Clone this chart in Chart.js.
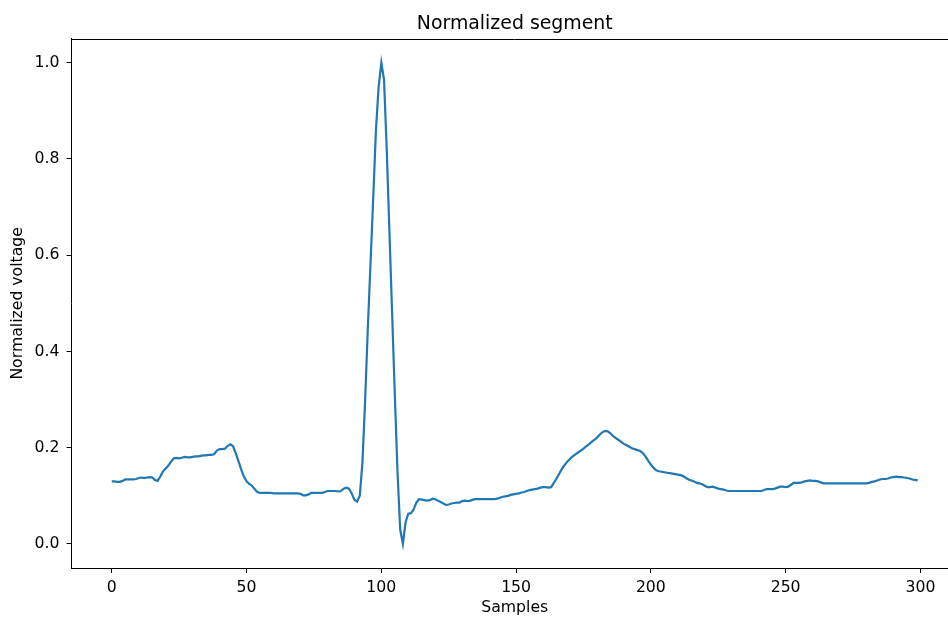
<!DOCTYPE html>
<html>
<head>
<meta charset="utf-8">
<script src="https://cdn.jsdelivr.net/npm/chart.js@4"></script>
<style>
  html, body { margin: 0; padding: 0; background: #fff; overflow: hidden; width: 948px; height: 618px; }
  #wrap { position: relative; width: 948px; height: 618px; overflow: hidden; }
  #c { position: absolute; left: 0; top: 0; display: block; }
</style>
</head>
<body>
<div id="wrap"><canvas id="c" width="1100" height="618"></canvas></div>
<script>
const chartTitle = "Normalized segment";
const xTitle = "Samples";
const yTitle = "Normalized voltage";
const xTicks = [0, 50, 100, 150, 200, 250, 300];
const yTicks = [0.0, 0.2, 0.4, 0.6, 0.8, 1.0];

const values = [
  0.130,0.130,0.129,0.129,0.131,0.134,0.134,0.134,0.134,0.135,
  0.137,0.138,0.137,0.138,0.139,0.138,0.133,0.131,0.140,0.151,
  0.157,0.163,0.171,0.178,0.179,0.178,0.179,0.181,0.180,0.180,
  0.181,0.182,0.182,0.183,0.184,0.184,0.185,0.185,0.187,0.194,
  0.197,0.197,0.198,0.204,0.207,0.203,0.188,0.172,0.155,0.140,
  0.130,0.125,0.121,0.114,0.108,0.106,0.106,0.106,0.106,0.106,
  0.105,0.105,0.105,0.105,0.105,0.105,0.105,0.105,0.105,0.105,
  0.104,0.101,0.101,0.103,0.106,0.106,0.106,0.106,0.106,0.108,
  0.110,0.110,0.110,0.110,0.109,0.110,0.115,0.117,0.115,0.105,
  0.092,0.088,0.100,0.170,0.300,0.450,0.585,0.720,0.860,0.950,
  1.000,0.965,0.820,0.650,0.480,0.310,0.150,0.030,0.000,0.045,
  0.063,0.064,0.072,0.086,0.093,0.092,0.091,0.090,0.091,0.094,
  0.093,0.090,0.087,0.084,0.081,0.082,0.084,0.085,0.086,0.086,
  0.089,0.090,0.089,0.090,0.092,0.093,0.093,0.093,0.093,0.093,
  0.093,0.093,0.093,0.094,0.096,0.098,0.099,0.100,0.102,0.103,
  0.104,0.105,0.107,0.108,0.110,0.112,0.113,0.114,0.115,0.117,
  0.118,0.118,0.117,0.118,0.127,0.136,0.146,0.156,0.164,0.171,
  0.177,0.182,0.186,0.190,0.194,0.198,0.203,0.207,0.212,0.216,
  0.221,0.227,0.232,0.235,0.234,0.230,0.224,0.220,0.216,0.212,
  0.208,0.205,0.202,0.199,0.197,0.195,0.193,0.189,0.182,0.173,
  0.165,0.158,0.153,0.151,0.150,0.149,0.148,0.147,0.146,0.145,
  0.144,0.143,0.141,0.137,0.134,0.132,0.130,0.127,0.126,0.124,
  0.121,0.118,0.118,0.119,0.117,0.115,0.114,0.113,0.111,0.110,
  0.110,0.110,0.110,0.110,0.110,0.110,0.110,0.110,0.110,0.110,
  0.110,0.110,0.112,0.114,0.114,0.114,0.115,0.117,0.119,0.119,
  0.118,0.119,0.123,0.127,0.127,0.127,0.128,0.130,0.131,0.132,
  0.131,0.131,0.130,0.128,0.126,0.126,0.126,0.126,0.126,0.126,
  0.126,0.126,0.126,0.126,0.126,0.126,0.126,0.126,0.126,0.126,
  0.126,0.127,0.129,0.130,0.132,0.134,0.135,0.135,0.136,0.138,
  0.139,0.140,0.139,0.139,0.138,0.137,0.136,0.134,0.133,0.132
];
const samples = values.map((_, i) => i);

const FONT = "'DejaVu Sans', 'Liberation Sans', sans-serif";
const TICK_SIZE = 15.7;
const TITLE_SIZE = 18.9;

const topSpinePlugin = {
  id: 'topSpine',
  afterDraw(chart) {
    const a = chart.chartArea;
    const ctx = chart.ctx;
    ctx.save();
    ctx.strokeStyle = '#000';
    ctx.lineWidth = 1;
    ctx.beginPath();
    const y = Math.round(a.top) + 0.5;
    ctx.moveTo(a.left, y);
    ctx.lineTo(a.right, y);
    ctx.stroke();
    ctx.restore();
  }
};

new Chart(document.getElementById('c'), {
  type: 'line',
  data: {
    datasets: [{
      data: samples.map((s, i) => ({ x: s, y: values[i] })),
      borderColor: '#1f77b4',
      borderWidth: 2.2,
      pointRadius: 0,
      tension: 0,
      fill: false
    }]
  },
  options: {
    responsive: false,
    animation: false,
    devicePixelRatio: 1,
    layout: { padding: { left: 0, right: 142, top: 0, bottom: 0 } },
    plugins: {
      legend: { display: false },
      tooltip: { enabled: false },
      title: {
        display: true,
        text: chartTitle,
        fullSize: false,
        color: '#000',
        font: { family: FONT, size: TITLE_SIZE, weight: 'normal' },
        padding: { top: 13, bottom: 3 }
      }
    },
    scales: {
      x: {
        type: 'linear',
        min: -14.95,
        max: 313.95,
        afterFit: s => { s.height = 50; },
        afterBuildTicks: s => { s.ticks = xTicks.map(v => ({ value: v })); },
        ticks: {
          color: '#000',
          font: { family: FONT, size: TICK_SIZE },
          padding: 6,
          maxRotation: 0,
          autoSkip: false,
          callback: v => String(v)
        },
        grid: { display: true, drawOnChartArea: false, drawTicks: true, tickLength: 5, tickColor: '#000', lineWidth: 1 },
        border: { display: true, color: '#000', width: 1 },
        title: {
          display: true,
          text: xTitle,
          color: '#000',
          font: { family: FONT, size: TICK_SIZE },
          padding: { top: 0, bottom: 1 }
        }
      },
      y: {
        type: 'linear',
        min: -0.05,
        max: 1.05,
        afterFit: s => { s.width = 71.5; },
        afterBuildTicks: s => { s.ticks = yTicks.map(v => ({ value: v })); },
        ticks: {
          color: '#000',
          font: { family: FONT, size: TICK_SIZE },
          padding: 7,
          autoSkip: false,
          callback: v => Number(v).toFixed(1)
        },
        grid: { display: true, drawOnChartArea: false, drawTicks: true, tickLength: 5, tickColor: '#000', lineWidth: 1 },
        border: { display: true, color: '#000', width: 1 },
        title: {
          display: true,
          text: yTitle,
          color: '#000',
          font: { family: FONT, size: TICK_SIZE },
          padding: { top: 8.6, bottom: 0 }
        }
      }
    }
  },
  plugins: [topSpinePlugin]
});
</script>
</body>
</html>
